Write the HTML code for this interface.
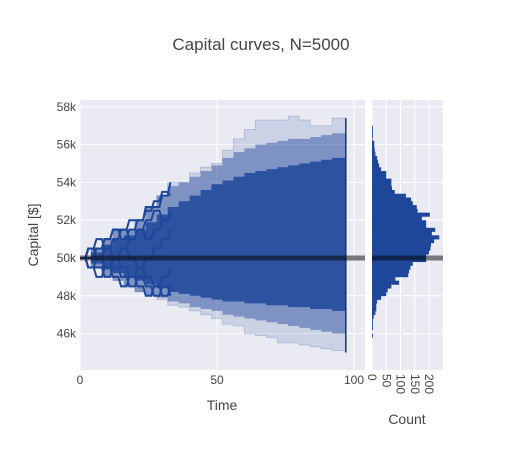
<!DOCTYPE html>
<html><head><meta charset="utf-8"><style>
body{margin:0;background:#fff;font-family:"Liberation Sans",sans-serif;}
svg text{font-family:"Liberation Sans",sans-serif;fill:#444;}
</style></head><body>
<svg id="c" width="522" height="450"></svg>
<script>
const times=[0,4,8,12,16,20,24,28,32,36,40,44,48,52,56,60,64,68,72,76,80,84,88,92,97];
const maxUpper=[50000,50500,51000,51500,51500,52000,52700,53300,54000,54000,54500,54800,55000,55700,56300,56800,57300,57300,57300,57500,57300,57000,57000,57400,57400];
const midUpper=[50000,50500,51000,51500,51500,52000,52700,53300,53800,54000,54300,54600,54900,55300,55600,55800,56000,56100,56200,56300,56300,56400,56500,56600,56800];
const coreUpper=[50000,50300,50700,51000,51200,51500,51900,52300,52700,53000,53300,53600,53900,54100,54300,54500,54600,54700,54800,54900,55000,55100,55200,55300,55400];
const coreLower=[50000,49700,49400,49200,49000,48800,48600,48400,48200,48100,48000,47900,47800,47700,47700,47600,47600,47500,47500,47400,47400,47300,47300,47200,47200];
const midLower=[50000,49500,49000,48800,48500,48200,48000,47900,47700,47600,47400,47300,47200,47000,46900,46800,46700,46600,46500,46400,46300,46200,46100,46000,45900];
const minLower=[50000,49500,49000,48800,48500,48200,48000,47800,47500,47400,47200,47000,46800,46500,46400,46000,45900,45800,45500,45500,45400,45300,45200,45100,45000];
const pathTimes=[0,3,6,9,12,15,18,21,24,27,30,33];
const paths=[
[50000,50500,50500,51000,51500,51000,51500,52000,52700,52700,53300,54000],
[50000,49500,49500,49000,49500,49000,48500,49000,48500,48000,48500,48000],
[50000,50500,50000,50500,51000,51500,51000,51500,52000,52500,52000,52500],
[50000,49500,50000,49500,49000,48500,49000,48500,48000,48500,48000,48500],
[50000,50500,51000,50500,50000,50500,51000,51500,51000,51500,52000,52500],
[50000,49500,49000,49500,50000,49500,49000,49500,49000,48500,49000,49500],
[50000,50500,50000,49500,50000,50500,50000,49500,50000,50500,51000,51500],
[50000,50000,50500,51000,51500,51500,52000,52000,52500,53000,53500,53300]];
const binStart=45800, binSize=200;
const counts=[3,0,3,3,3,6,12,15,15,18,32,50,55,68,95,82,127,130,135,143,190,190,200,205,207,218,236,210,222,190,190,175,203,160,157,143,137,119,80,70,68,68,50,50,32,25,21,18,12,10,8,8,2,3,3,3];
const xTicks=[0,50,100], yTicks=[46000,48000,50000,52000,54000,56000,58000], cTicks=[0,50,100,150,200];

const NS="http://www.w3.org/2000/svg", svg=document.getElementById('c');
function el(t,a,p){const e=document.createElementNS(NS,t);for(const k in a)e.setAttribute(k,a[k]);(p||svg).appendChild(e);return e;}
const X=t=>80+t*2.74, Y=v=>258-(v-50000)*0.0189, C=n=>372+n*0.285;
const BLUE="#1f4799", BG="#eaeaf2";

let r=el('rect',{x:80,y:100,width:285,height:270,fill:BG});

r=el('rect',{x:372,y:100,width:71,height:270,fill:BG});

yTicks.forEach(v=>{
  let g=el('line',{x1:80,x2:365,y1:Y(v),y2:Y(v),stroke:'#fff','stroke-width':1});
  
  g=el('line',{x1:372,x2:443,y1:Y(v),y2:Y(v),stroke:'#fff','stroke-width':1});
  
  const t=el('text',{x:76,y:Y(v)+4,'text-anchor':'end','font-size':12});t.textContent=(v/1000)+'k';
  
});
xTicks.forEach(v=>{
  const g=el('line',{x1:X(v),x2:X(v),y1:100,y2:370,stroke:'#fff','stroke-width':1});
  
  const t=el('text',{x:X(v),y:384,'text-anchor':'middle','font-size':12});t.textContent=v;
  
});
cTicks.forEach(v=>{
  const g=el('line',{x1:C(v),x2:C(v),y1:100,y2:370,stroke:'#fff','stroke-width':1});
  
  const t=el('text',{x:0,y:0,'font-size':12,transform:`translate(${C(v)-4},374) rotate(90)`});t.textContent=v;
  
});
function stepPath(ts,up,lo){
  let d='M'+X(ts[0])+','+Y(up[0]);
  for(let i=1;i<ts.length;i++){d+='L'+X(ts[i])+','+Y(up[i-1])+'L'+X(ts[i])+','+Y(up[i]);}
  for(let i=ts.length-1;i>0;i--){d+='L'+X(ts[i])+','+Y(lo[i])+'L'+X(ts[i])+','+Y(lo[i-1]);}
  return d+'Z';
}
let p=el('path',{d:stepPath(times,maxUpper,minLower),fill:BLUE,'fill-opacity':0.15,stroke:BLUE,'stroke-opacity':0.2});

p=el('path',{d:stepPath(times,midUpper,midLower),fill:BLUE,'fill-opacity':0.45});

p=el('path',{d:stepPath(times,coreUpper,coreLower),fill:BLUE,'fill-opacity':0.85});

paths.forEach(a=>{
  let d='M'+X(pathTimes[0])+','+Y(a[0]);
  for(let i=1;i<a.length;i++)d+='L'+X(pathTimes[i]-1)+','+Y(a[i-1])+'L'+X(pathTimes[i])+','+Y(a[i]);
  const q=el('path',{d:d,fill:'none',stroke:BLUE,'stroke-width':2});
  
});
p=el('line',{x1:X(times[times.length-1]),x2:X(times[times.length-1]),y1:Y(maxUpper[maxUpper.length-1]),y2:Y(minLower[minLower.length-1]),stroke:'#15336f','stroke-width':1.5});

counts.forEach((n,i)=>{
  const v0=binStart+i*binSize;
  const b=el('rect',{x:372,y:Y(v0+binSize),width:n*0.285,height:Y(v0)-Y(v0+binSize)+0.3,fill:BLUE});
  
});
[[80,365],[372,443]].forEach(([a,b])=>{
  const l=el('line',{x1:a,x2:b,y1:Y(50000),y2:Y(50000),stroke:'#000','stroke-opacity':0.5,'stroke-width':5});
  
});
let t=el('text',{x:261,y:50,'text-anchor':'middle','font-size':17});t.textContent='Capital curves, N=5000';

t=el('text',{x:222,y:410,'text-anchor':'middle','font-size':14});t.textContent='Time';

t=el('text',{x:0,y:0,'text-anchor':'middle','font-size':14,transform:'translate(38,235) rotate(-90)'});t.textContent='Capital [$]';

t=el('text',{x:407,y:424,'text-anchor':'middle','font-size':14});t.textContent='Count';

</script></body></html>
